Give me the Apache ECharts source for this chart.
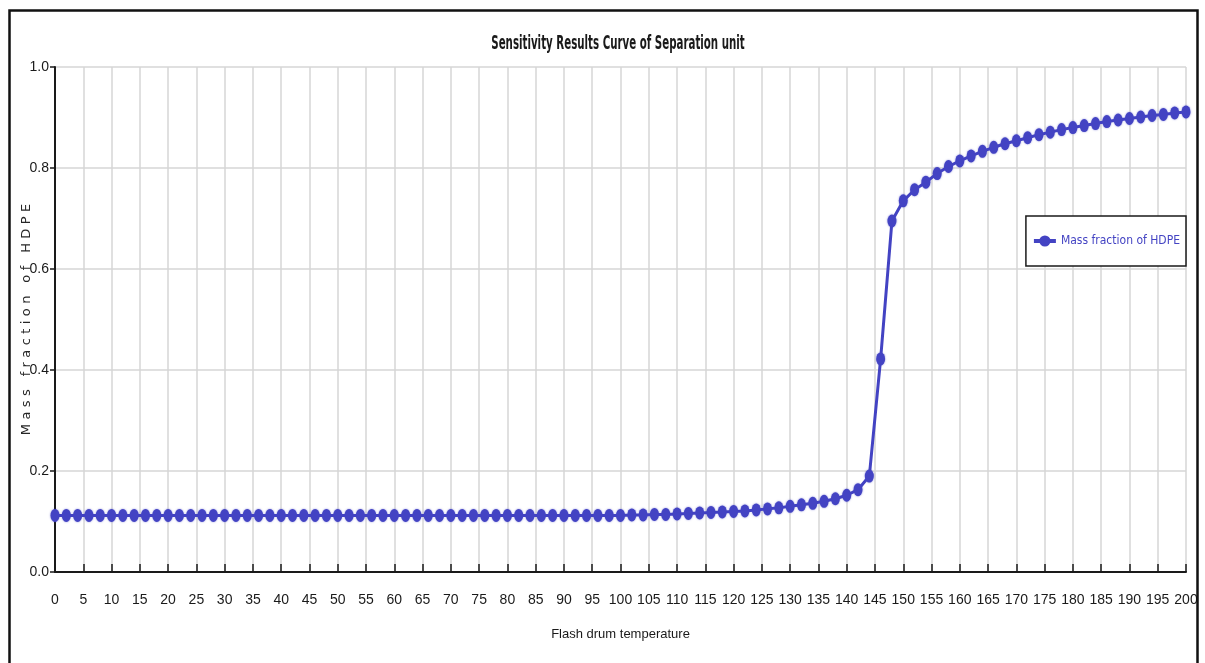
<!DOCTYPE html>
<html>
<head>
<meta charset="utf-8">
<script src="https://cdn.jsdelivr.net/npm/echarts@6/dist/echarts.min.js"></script>
<style>
  html, body { margin: 0; padding: 0; background: #ffffff; }
  #chart { width: 1205px; height: 663px; }
</style>
</head>
<body>
<div id="chart"></div>
<script>
// Flash drum temperature sweep (sensitivity analysis points)
const temperatures = [
  0, 2, 4, 6, 8, 10, 12, 14, 16, 18, 20, 22, 24, 26, 28, 30, 32, 34, 36, 38,
  40, 42, 44, 46, 48, 50, 52, 54, 56, 58, 60, 62, 64, 66, 68, 70, 72, 74, 76, 78,
  80, 82, 84, 86, 88, 90, 92, 94, 96, 98, 100, 102, 104, 106, 108, 110, 112, 114, 116, 118,
  120, 122, 124, 126, 128, 130, 132, 134, 136, 138, 140, 142, 144, 146, 148, 150, 152, 154, 156, 158,
  160, 162, 164, 166, 168, 170, 172, 174, 176, 178, 180, 182, 184, 186, 188, 190, 192, 194, 196, 198,
  200
];

// Mass fraction of HDPE at each temperature
const hdpeMassFraction = [
  0.112, 0.112, 0.112, 0.112, 0.112, 0.112, 0.112, 0.112, 0.112, 0.112,
  0.112, 0.112, 0.112, 0.112, 0.112, 0.112, 0.112, 0.112, 0.112, 0.112,
  0.112, 0.112, 0.112, 0.112, 0.112, 0.112, 0.112, 0.112, 0.112, 0.112,
  0.112, 0.112, 0.112, 0.112, 0.112, 0.112, 0.112, 0.112, 0.112, 0.112,
  0.112, 0.112, 0.112, 0.112, 0.112, 0.112, 0.112, 0.112, 0.112, 0.112,
  0.112, 0.113, 0.113, 0.114, 0.114, 0.115, 0.116, 0.117, 0.118, 0.119,
  0.120, 0.121, 0.123, 0.125, 0.127, 0.130, 0.133, 0.136, 0.140, 0.145,
  0.152, 0.163, 0.190, 0.422, 0.695, 0.735, 0.757, 0.772, 0.789, 0.803,
  0.814, 0.824, 0.833, 0.841, 0.848, 0.854, 0.860, 0.866, 0.871, 0.876,
  0.880, 0.884, 0.888, 0.892, 0.895, 0.898, 0.901, 0.904, 0.906, 0.909,
  0.911
];

// Axis ranges and tick steps
const xRange = [0, 200];
const xTickStep = 5;
const yRange = [0, 1];
const yTickStep = 0.2;

const chartTitle = 'Sensitivity Results Curve of Separation unit';
const xAxisTitle = 'Flash drum temperature';
const yAxisTitle = 'Mass fraction of HDPE';
const seriesName = 'Mass fraction of HDPE';

const points = temperatures.map((t, i) => [t, hdpeMassFraction[i]]);

const lineColor = '#4343c3';
const inkColor = '#1a1a1a';
const labelFont = '"Liberation Sans", Arial, sans-serif';
const condensedFont = '"DejaVu Sans Condensed", "DejaVu Sans", sans-serif';
const ellipse = 'path://M0,-1A1,1 0 1,1 0,1A1,1 0 1,1 0,-1Z';

// Letter-spaced vertical axis title: one rich-text token per character
const spacedYTitle = yAxisTitle.split('').map(ch => '{s|' + ch + '}').join('');

const chart = echarts.init(document.getElementById('chart'), null, { renderer: 'canvas' });

chart.setOption({
  backgroundColor: '#ffffff',
  animation: false,
  grid: {
    left: 55,
    right: 19,
    top: 67,
    bottom: 91,
    containLabel: false,
    outerBoundsMode: 'none'
  },
  legend: {
    right: 19,
    top: 216,
    orient: 'vertical',
    backgroundColor: '#ffffff',
    borderColor: inkColor,
    borderWidth: 1.5,
    borderRadius: 0,
    padding: [19, 6, 19, 6],
    itemWidth: 22,
    itemHeight: 14,
    itemGap: 5,
    lineStyle: { width: 4 },
    textStyle: {
      fontFamily: condensedFont,
      fontSize: 12,
      color: lineColor
    },
    data: [seriesName]
  },
  xAxis: {
    type: 'value',
    min: xRange[0],
    max: xRange[1],
    interval: xTickStep,
    name: xAxisTitle,
    nameLocation: 'middle',
    nameGap: 56,
    nameMoveOverlap: false,
    nameTextStyle: {
      fontFamily: labelFont,
      fontSize: 13,
      color: inkColor
    },
    axisLine: { lineStyle: { color: inkColor, width: 2 } },
    axisTick: { inside: true, length: 8, lineStyle: { color: inkColor, width: 1.5 } },
    axisLabel: {
      margin: 21,
      fontFamily: labelFont,
      fontSize: 14,
      color: inkColor
    },
    splitLine: { show: true, lineStyle: { color: '#d6d6d6', width: 1.5 } }
  },
  yAxis: {
    type: 'value',
    min: yRange[0],
    max: yRange[1],
    interval: yTickStep,
    name: spacedYTitle,
    nameLocation: 'middle',
    nameGap: 22,
    nameRotate: 90,
    nameMoveOverlap: false,
    nameTextStyle: {
      color: '#2a2a2a',
      rich: {
        s: {
          fontFamily: '"DejaVu Sans", sans-serif',
          fontSize: 13,
          color: '#262626',
          padding: [0, 2.2, 0, 2.2]
        }
      }
    },
    axisLine: { show: true, lineStyle: { color: inkColor, width: 2 } },
    axisTick: { show: true, inside: false, length: 5, lineStyle: { color: inkColor, width: 1.5 } },
    axisLabel: {
      margin: 6,
      fontFamily: labelFont,
      fontSize: 14,
      color: inkColor,
      formatter: v => v.toFixed(1)
    },
    splitLine: { show: true, lineStyle: { color: '#d6d6d6', width: 1.5 } }
  },
  graphic: [
    {
      // chart title, drawn in a compressed bold face
      type: 'text',
      x: 618,
      y: 44,
      scaleX: 0.6,
      style: {
        text: chartTitle,
        align: 'center',
        verticalAlign: 'middle',
        font: 'bold 19px "DejaVu Sans Condensed", "DejaVu Sans", sans-serif',
        fill: inkColor
      },
      silent: true,
      z: 50
    },
    {
      // outer frame
      type: 'rect',
      left: 7,
      top: 8,
      shape: { width: 1188, height: 700 },
      style: { fill: null, stroke: '#111111', lineWidth: 2.5 },
      silent: true,
      z: 100
    }
  ],
  series: [
    {
      name: seriesName,
      type: 'line',
      data: points,
      symbol: ellipse,
      symbolSize: [9, 13],
      showSymbol: true,
      lineStyle: { color: lineColor, width: 3 },
      itemStyle: {
        color: lineColor,
        shadowBlur: 2,
        shadowColor: 'rgba(67,67,195,0.6)'
      },
      z: 5
    }
  ]
});
</script>
</body>
</html>
